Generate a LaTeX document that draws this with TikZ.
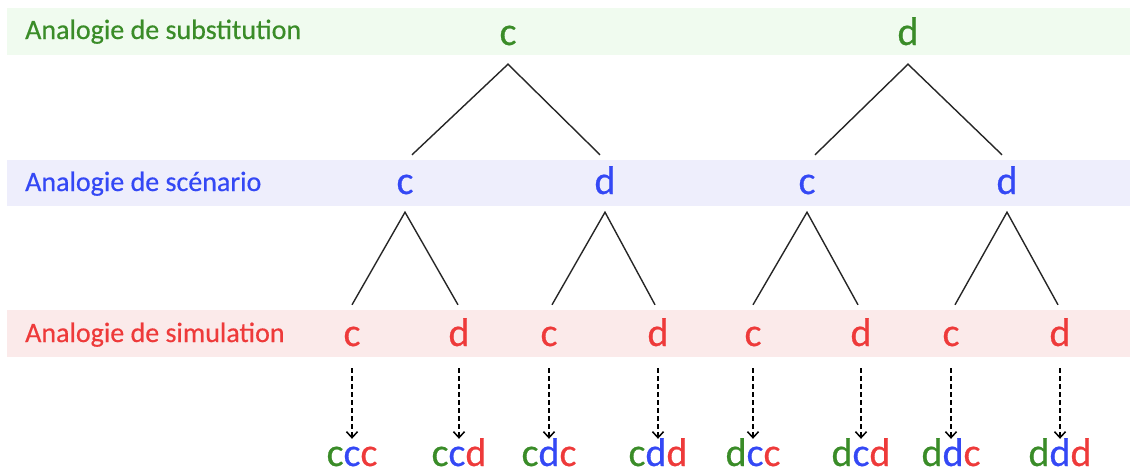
\documentclass[tikz,border=0pt]{standalone}
\usepackage{fontspec}
\setmainfont{Carlito}
\newfontfamily\medfont{Carlito}[FakeBold=0.5]
\usetikzlibrary{arrows.meta}
\definecolor{gr}{RGB}{58,140,40}
\definecolor{bl}{RGB}{52,72,245}
\definecolor{rd}{RGB}{238,58,58}
\definecolor{grf}{RGB}{240,251,239}
\definecolor{blf}{RGB}{238,238,252}
\definecolor{rdf}{RGB}{251,234,234}
\tikzset{
  lbl/.style={anchor=base west, inner sep=0pt, font=\medfont\fontsize{28}{32}\selectfont},
  lt/.style={anchor=base, inner sep=0pt, text height=27pt, text depth=0pt, font=\medfont\fontsize{40}{44}\selectfont},
  treeline/.style={draw=black!85, line width=1.4pt},
  dasharrow/.style={draw=black, line width=1.3pt, dash pattern=on 5pt off 3pt, -{Straight Barb[length=6pt,width=11pt,line width=1.5pt]}}
}
\begin{document}
\begin{tikzpicture}[x=1pt,y=-1pt]
\useasboundingbox (0,0) rectangle (1130,472);
% bands
\fill[grf] (7,8) rectangle (1130,55);
\fill[blf] (7,160) rectangle (1130,206);
\fill[rdf] (7,310) rectangle (1130,357);
% labels
\node[lbl, text=gr] (L1) at (25,39) {Analogie de substitution};
\node[lbl, text=bl] (L2) at (25,191) {Analogie de scénario};
\node[lbl, text=rd] (L3) at (25,342) {Analogie de simulation};
% level 1
\node[lt, text=gr] (a) at (508,45) {c};
\node[lt, text=gr] (b) at (908,45) {d};
% level 2
\node[lt, text=bl] (ac) at (405,194) {c};
\node[lt, text=bl] (ad) at (605,194) {d};
\node[lt, text=bl] (bc) at (807,194) {c};
\node[lt, text=bl] (bd) at (1007,194) {d};
% level 3
\node[lt, text=rd] (acc) at (352,346) {c};
\node[lt, text=rd] (acd) at (459,346) {d};
\node[lt, text=rd] (adc) at (549,346) {c};
\node[lt, text=rd] (add) at (658,346) {d};
\node[lt, text=rd] (bcc) at (753,346) {c};
\node[lt, text=rd] (bcd) at (861,346) {d};
\node[lt, text=rd] (bdc) at (951,346) {c};
\node[lt, text=rd] (bdd) at (1060,346) {d};
% results
\node[lt] (r1) at (352,466) {\textcolor{gr}{c}\textcolor{bl}{c}\textcolor{rd}{c}};
\node[lt] (r2) at (459,466) {\textcolor{gr}{c}\textcolor{bl}{c}\textcolor{rd}{d}};
\node[lt] (r3) at (549,466) {\textcolor{gr}{c}\textcolor{bl}{d}\textcolor{rd}{c}};
\node[lt] (r4) at (658,466) {\textcolor{gr}{c}\textcolor{bl}{d}\textcolor{rd}{d}};
\node[lt] (r5) at (753,466) {\textcolor{gr}{d}\textcolor{bl}{c}\textcolor{rd}{c}};
\node[lt] (r6) at (861,466) {\textcolor{gr}{d}\textcolor{bl}{c}\textcolor{rd}{d}};
\node[lt] (r7) at (951,466) {\textcolor{gr}{d}\textcolor{bl}{d}\textcolor{rd}{c}};
\node[lt] (r8) at (1060,466) {\textcolor{gr}{d}\textcolor{bl}{d}\textcolor{rd}{d}};
% tree edges level 1 -> 2
\draw[treeline] ([yshift=12pt,xshift=7pt]ac.north) -- ([yshift=-19pt]a.south) -- ([yshift=12pt,xshift=-5pt]ad.north);
\draw[treeline] ([yshift=12pt,xshift=8pt]bc.north) -- ([yshift=-19pt]b.south) -- ([yshift=12pt,xshift=-5pt]bd.north);
% level 2 -> 3
\draw[treeline] ([yshift=14pt]acc.north) -- ([yshift=-18pt]ac.south) -- ([yshift=14pt,xshift=-1pt]acd.north);
\draw[treeline] ([yshift=14pt,xshift=3pt]adc.north) -- ([yshift=-18pt]ad.south) -- ([yshift=14pt,xshift=-3pt]add.north);
\draw[treeline] ([yshift=14pt]bcc.north) -- ([yshift=-18pt]bc.south) -- ([yshift=14pt,xshift=-3pt]bcd.north);
\draw[treeline] ([yshift=14pt,xshift=4pt]bdc.north) -- ([yshift=-18pt]bd.south) -- ([yshift=14pt,xshift=-2pt]bdd.north);
% dashed arrows
\foreach \s/\t in {acc/r1,acd/r2,adc/r3,add/r4,bcc/r5,bcd/r6,bdc/r7,bdd/r8}
  \draw[dasharrow] ([yshift=-22pt]\s.south) -- ([yshift=0pt]\t.north);
\end{tikzpicture}
\end{document}
